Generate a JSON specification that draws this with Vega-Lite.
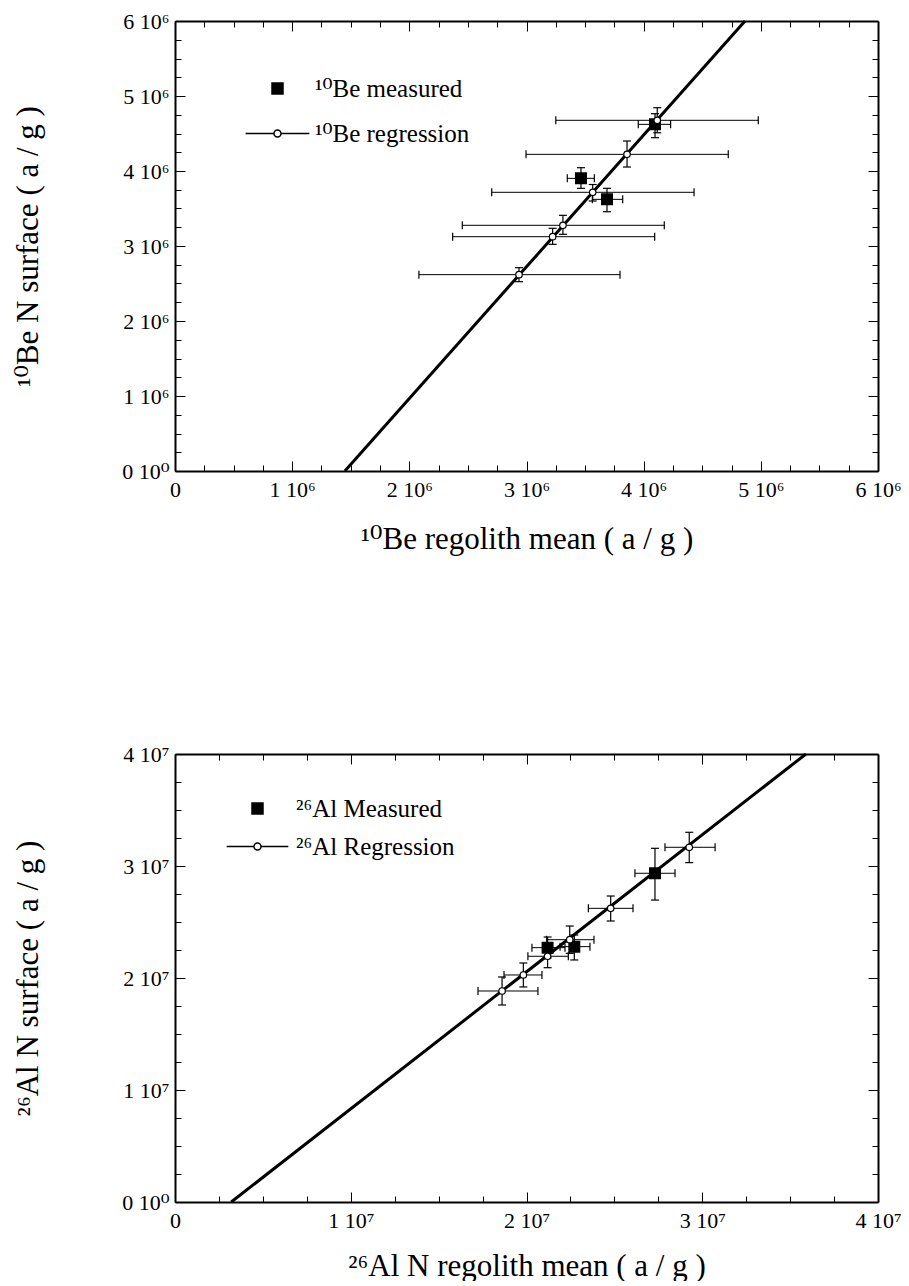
{
  "$schema": "https://vega.github.io/schema/vega-lite/v6.json",
  "padding": {"left": 12, "top": 10, "right": 0, "bottom": 0},
  "background": "white",
  "config": {"font": "'Liberation Serif', 'DejaVu Serif', serif", "view": {"stroke": null},
    "axis": {"labelFont": "'Liberation Serif', 'DejaVu Serif', serif", "titleFont": "'Liberation Serif', 'DejaVu Serif', serif"},
    "legend": {"labelFont": "'Liberation Serif', 'DejaVu Serif', serif"}},
  "spacing": 189,
  "datasets": {
    "be": [
      {"type": "reg", "series": "¹⁰Be regression", "x": 2936000, "y": 2618000, "xlo": 2082000, "xhi": 3798000, "ylo": 2524000, "yhi": 2711000},
      {"type": "reg", "series": "¹⁰Be regression", "x": 3223000, "y": 3124000, "xlo": 2370000, "xhi": 4094000, "ylo": 3022000, "yhi": 3236000},
      {"type": "reg", "series": "¹⁰Be regression", "x": 3311000, "y": 3276000, "xlo": 2452000, "xhi": 4176000, "ylo": 3156000, "yhi": 3409000},
      {"type": "reg", "series": "¹⁰Be regression", "x": 3565000, "y": 3716000, "xlo": 2703000, "xhi": 4430000, "ylo": 3600000, "yhi": 3820000},
      {"type": "reg", "series": "¹⁰Be regression", "x": 3858000, "y": 4222000, "xlo": 2996000, "xhi": 4722000, "ylo": 4053000, "yhi": 4400000},
      {"type": "reg", "series": "¹⁰Be regression", "x": 4116000, "y": 4676000, "xlo": 3250000, "xhi": 4978000, "ylo": 4510000, "yhi": 4844000},
      {"type": "meas", "series": "¹⁰Be measured", "x": 3465000, "y": 3902000, "xlo": 3348000, "xhi": 3579000, "ylo": 3769000, "yhi": 4044000},
      {"type": "meas", "series": "¹⁰Be measured", "x": 3687000, "y": 3622000, "xlo": 3562000, "xhi": 3821000, "ylo": 3457000, "yhi": 3769000},
      {"type": "meas", "series": "¹⁰Be measured", "x": 4097000, "y": 4622000, "xlo": 3954000, "xhi": 4230000, "ylo": 4444000, "yhi": 4764000}
    ],
    "beline": [{"x": 1450000, "y": 0}, {"x": 4865000, "y": 6000000}],
    "al": [
      {"type": "reg", "series": "²⁶Al Regression", "x": 18610000, "y": 18840000, "xlo": 17240000, "xhi": 20650000, "ylo": 17590000, "yhi": 20090000},
      {"type": "reg", "series": "²⁶Al Regression", "x": 19820000, "y": 20270000, "xlo": 18720000, "xhi": 20880000, "ylo": 19200000, "yhi": 21340000},
      {"type": "reg", "series": "²⁶Al Regression", "x": 21200000, "y": 21940000, "xlo": 20080000, "xhi": 22380000, "ylo": 20920000, "yhi": 22950000},
      {"type": "reg", "series": "²⁶Al Regression", "x": 22460000, "y": 23420000, "xlo": 21150000, "xhi": 23840000, "ylo": 22200000, "yhi": 24640000},
      {"type": "reg", "series": "²⁶Al Regression", "x": 24790000, "y": 26220000, "xlo": 23520000, "xhi": 26060000, "ylo": 25090000, "yhi": 27320000},
      {"type": "reg", "series": "²⁶Al Regression", "x": 29260000, "y": 31670000, "xlo": 27880000, "xhi": 30730000, "ylo": 30300000, "yhi": 33010000},
      {"type": "meas", "series": "²⁶Al Measured", "x": 21200000, "y": 22710000, "xlo": 20310000, "xhi": 22190000, "ylo": 21790000, "yhi": 23660000},
      {"type": "meas", "series": "²⁶Al Measured", "x": 22720000, "y": 22800000, "xlo": 21910000, "xhi": 23610000, "ylo": 21610000, "yhi": 23840000},
      {"type": "meas", "series": "²⁶Al Measured", "x": 27310000, "y": 29350000, "xlo": 26170000, "xhi": 28450000, "ylo": 26960000, "yhi": 31580000}
    ],
    "alline": [{"x": 3200000, "y": 0}, {"x": 35900000, "y": 40000000}]
  },
  "resolve": {
    "scale": {"x": "independent", "y": "independent", "shape": "independent", "fill": "independent", "stroke": "independent"},
    "legend": {"shape": "independent", "fill": "independent", "stroke": "independent"}
  },
  "vconcat": [
    {
      "width": 703,
      "height": 450,
      "resolve": {"axis": {"x": "independent", "y": "independent"}},
      "layer": [
        {
          "data": {"name": "be"},
          "mark": {"type": "rule", "color": "black", "strokeWidth": 1},
          "encoding": {
            "x": {"field": "xlo", "type": "quantitative", "scale": {"domain": [0, 6000000], "nice": false}, "axis": null},
            "x2": {"field": "xhi"},
            "y": {"field": "y", "type": "quantitative", "scale": {"domain": [0, 6000000], "nice": false}, "axis": null}
          }
        },
        {
          "data": {"name": "be"},
          "mark": {"type": "tick", "orient": "vertical", "size": 8, "thickness": 1.2, "color": "black", "opacity": 1},
          "encoding": {
            "x": {"field": "xlo", "type": "quantitative", "scale": {"domain": [0, 6000000], "nice": false}, "axis": null},
            "y": {"field": "y", "type": "quantitative", "scale": {"domain": [0, 6000000], "nice": false}, "axis": null}
          }
        },
        {
          "data": {"name": "be"},
          "mark": {"type": "tick", "orient": "vertical", "size": 8, "thickness": 1.2, "color": "black", "opacity": 1},
          "encoding": {
            "x": {"field": "xhi", "type": "quantitative", "scale": {"domain": [0, 6000000], "nice": false}, "axis": null},
            "y": {"field": "y", "type": "quantitative", "scale": {"domain": [0, 6000000], "nice": false}, "axis": null}
          }
        },
        {
          "data": {"name": "be"},
          "mark": {"type": "rule", "color": "black", "strokeWidth": 1.2},
          "encoding": {
            "x": {"field": "x", "type": "quantitative", "scale": {"domain": [0, 6000000], "nice": false}, "axis": null},
            "y": {"field": "ylo", "type": "quantitative", "scale": {"domain": [0, 6000000], "nice": false}, "axis": null},
            "y2": {"field": "yhi"}
          }
        },
        {
          "data": {"name": "be"},
          "mark": {"type": "tick", "orient": "horizontal", "size": 8, "thickness": 1.2, "color": "black", "opacity": 1},
          "encoding": {
            "x": {"field": "x", "type": "quantitative", "scale": {"domain": [0, 6000000], "nice": false}, "axis": null},
            "y": {"field": "ylo", "type": "quantitative", "scale": {"domain": [0, 6000000], "nice": false}, "axis": null}
          }
        },
        {
          "data": {"name": "be"},
          "mark": {"type": "tick", "orient": "horizontal", "size": 8, "thickness": 1.2, "color": "black", "opacity": 1},
          "encoding": {
            "x": {"field": "x", "type": "quantitative", "scale": {"domain": [0, 6000000], "nice": false}, "axis": null},
            "y": {"field": "yhi", "type": "quantitative", "scale": {"domain": [0, 6000000], "nice": false}, "axis": null}
          }
        },
        {
          "data": {"name": "beline"},
          "mark": {"type": "line", "color": "black", "strokeWidth": 3},
          "encoding": {
            "x": {"field": "x", "type": "quantitative", "scale": {"domain": [0, 6000000], "nice": false},
              "axis": {"orient": "bottom", "values": [0, 250000, 500000, 750000, 1000000, 1250000, 1500000, 1750000, 2000000, 2250000, 2500000, 2750000, 3000000, 3250000, 3500000, 3750000, 4000000, 4250000, 4500000, 4750000, 5000000, 5250000, 5500000, 5750000, 6000000],
                "labelExpr": "datum.value % 1000000 === 0 ? (datum.value === 0 ? '0' : (datum.value / 1000000) + ' 10⁶') : ''",
                "tickSize": {"condition": {"test": "datum.value % 1000000 === 0", "value": -10}, "value": -6},
                "tickColor": "black", "tickWidth": 1, "domainColor": "black", "domainWidth": 2, "grid": false,
                "labelFontSize": 22, "labelColor": "black", "labelPadding": 18,
                "labelFlush": false, "labelOverlap": false, "labelBound": false,
                "title": "¹⁰Be regolith mean ( a / g )", "titleFontSize": 31, "titleFontWeight": "normal", "titleColor": "black", "titlePadding": 20}},
            "y": {"field": "y", "type": "quantitative", "scale": {"domain": [0, 6000000], "nice": false},
              "axis": {"orient": "left", "values": [0, 250000, 500000, 750000, 1000000, 1250000, 1500000, 1750000, 2000000, 2250000, 2500000, 2750000, 3000000, 3250000, 3500000, 3750000, 4000000, 4250000, 4500000, 4750000, 5000000, 5250000, 5500000, 5750000, 6000000],
                "labelExpr": "datum.value % 1000000 === 0 ? (datum.value === 0 ? '0 10⁰' : (datum.value / 1000000) + ' 10⁶') : ''",
                "tickSize": {"condition": {"test": "datum.value % 1000000 === 0", "value": -10}, "value": -6},
                "tickColor": "black", "tickWidth": 1, "domainColor": "black", "domainWidth": 2, "grid": false,
                "labelFontSize": 22, "labelColor": "black", "labelPadding": 16,
                "labelFlush": false, "labelOverlap": false, "labelBound": false,
                "title": "¹⁰Be N surface ( a / g )", "titleFontSize": 31, "titleFontWeight": "normal", "titleColor": "black", "titlePadding": 77}}
          }
        },
        {
          "data": {"name": "be"},
          "transform": [{"filter": "datum.type === 'meas'"}],
          "mark": {"type": "point", "filled": true, "strokeWidth": 1.5, "size": 110, "opacity": 1},
          "encoding": {
            "x": {"field": "x", "type": "quantitative", "scale": {"domain": [0, 6000000], "nice": false},
              "axis": {"orient": "top", "values": [0, 250000, 500000, 750000, 1000000, 1250000, 1500000, 1750000, 2000000, 2250000, 2500000, 2750000, 3000000, 3250000, 3500000, 3750000, 4000000, 4250000, 4500000, 4750000, 5000000, 5250000, 5500000, 5750000, 6000000],
                "labels": false, "title": null,
                "tickSize": {"condition": {"test": "datum.value % 1000000 === 0", "value": -10}, "value": -6},
                "tickColor": "black", "tickWidth": 1, "domainColor": "black", "domainWidth": 2, "grid": false}},
            "y": {"field": "y", "type": "quantitative", "scale": {"domain": [0, 6000000], "nice": false},
              "axis": {"orient": "right", "values": [0, 250000, 500000, 750000, 1000000, 1250000, 1500000, 1750000, 2000000, 2250000, 2500000, 2750000, 3000000, 3250000, 3500000, 3750000, 4000000, 4250000, 4500000, 4750000, 5000000, 5250000, 5500000, 5750000, 6000000],
                "labels": false, "title": null,
                "tickSize": {"condition": {"test": "datum.value % 1000000 === 0", "value": -10}, "value": -6},
                "tickColor": "black", "tickWidth": 1, "domainColor": "black", "domainWidth": 2, "grid": false}},
            "shape": {"field": "series", "type": "nominal",
              "scale": {"domain": ["¹⁰Be measured", "¹⁰Be regression"], "range": ["square", "M-5.8,0L-0.64,0M0.64,0L5.8,0M0.64,0A0.64,0.64,0,1,1,-0.64,0A0.64,0.64,0,1,1,0.64,0Z"]},
              "legend": {"title": null, "orient": "none", "legendX": 90, "legendY": 55, "symbolSize": 121, "symbolStrokeWidth": 1.5, "symbolOpacity": 1, "labelFontSize": 25, "labelColor": "black", "labelOffset": 25, "rowPadding": 19, "labelLimit": 0}},
            "fill": {"field": "series", "type": "nominal",
              "scale": {"domain": ["¹⁰Be measured", "¹⁰Be regression"], "range": ["black", "white"]},
              "legend": {"title": null, "orient": "none", "legendX": 90, "legendY": 55, "symbolSize": 121, "symbolStrokeWidth": 1.5, "symbolOpacity": 1, "labelFontSize": 25, "labelColor": "black", "labelOffset": 25, "rowPadding": 19, "labelLimit": 0}},
            "stroke": {"field": "series", "type": "nominal",
              "scale": {"domain": ["¹⁰Be measured", "¹⁰Be regression"], "range": ["black", "black"]},
              "legend": {"title": null, "orient": "none", "legendX": 90, "legendY": 55, "symbolSize": 121, "symbolStrokeWidth": 1.5, "symbolOpacity": 1, "labelFontSize": 25, "labelColor": "black", "labelOffset": 25, "rowPadding": 19, "labelLimit": 0}}
          }
        },
        {
          "data": {"name": "be"},
          "transform": [{"filter": "datum.type === 'reg'"}],
          "mark": {"type": "point", "shape": "circle", "filled": true, "fill": "white", "stroke": "black", "strokeWidth": 1.2, "size": 42, "opacity": 1},
          "encoding": {
            "x": {"field": "x", "type": "quantitative", "scale": {"domain": [0, 6000000], "nice": false}, "axis": null},
            "y": {"field": "y", "type": "quantitative", "scale": {"domain": [0, 6000000], "nice": false}, "axis": null}
          }
        }
      ]
    },
    {
      "width": 703,
      "height": 448,
      "resolve": {"axis": {"x": "independent", "y": "independent"}},
      "layer": [
        {
          "data": {"name": "al"},
          "mark": {"type": "rule", "color": "black", "strokeWidth": 1},
          "encoding": {
            "x": {"field": "xlo", "type": "quantitative", "scale": {"domain": [0, 40000000], "nice": false}, "axis": null},
            "x2": {"field": "xhi"},
            "y": {"field": "y", "type": "quantitative", "scale": {"domain": [0, 40000000], "nice": false}, "axis": null}
          }
        },
        {
          "data": {"name": "al"},
          "mark": {"type": "tick", "orient": "vertical", "size": 8, "thickness": 1.2, "color": "black", "opacity": 1},
          "encoding": {
            "x": {"field": "xlo", "type": "quantitative", "scale": {"domain": [0, 40000000], "nice": false}, "axis": null},
            "y": {"field": "y", "type": "quantitative", "scale": {"domain": [0, 40000000], "nice": false}, "axis": null}
          }
        },
        {
          "data": {"name": "al"},
          "mark": {"type": "tick", "orient": "vertical", "size": 8, "thickness": 1.2, "color": "black", "opacity": 1},
          "encoding": {
            "x": {"field": "xhi", "type": "quantitative", "scale": {"domain": [0, 40000000], "nice": false}, "axis": null},
            "y": {"field": "y", "type": "quantitative", "scale": {"domain": [0, 40000000], "nice": false}, "axis": null}
          }
        },
        {
          "data": {"name": "al"},
          "mark": {"type": "rule", "color": "black", "strokeWidth": 1.2},
          "encoding": {
            "x": {"field": "x", "type": "quantitative", "scale": {"domain": [0, 40000000], "nice": false}, "axis": null},
            "y": {"field": "ylo", "type": "quantitative", "scale": {"domain": [0, 40000000], "nice": false}, "axis": null},
            "y2": {"field": "yhi"}
          }
        },
        {
          "data": {"name": "al"},
          "mark": {"type": "tick", "orient": "horizontal", "size": 8, "thickness": 1.2, "color": "black", "opacity": 1},
          "encoding": {
            "x": {"field": "x", "type": "quantitative", "scale": {"domain": [0, 40000000], "nice": false}, "axis": null},
            "y": {"field": "ylo", "type": "quantitative", "scale": {"domain": [0, 40000000], "nice": false}, "axis": null}
          }
        },
        {
          "data": {"name": "al"},
          "mark": {"type": "tick", "orient": "horizontal", "size": 8, "thickness": 1.2, "color": "black", "opacity": 1},
          "encoding": {
            "x": {"field": "x", "type": "quantitative", "scale": {"domain": [0, 40000000], "nice": false}, "axis": null},
            "y": {"field": "yhi", "type": "quantitative", "scale": {"domain": [0, 40000000], "nice": false}, "axis": null}
          }
        },
        {
          "data": {"name": "alline"},
          "mark": {"type": "line", "color": "black", "strokeWidth": 3},
          "encoding": {
            "x": {"field": "x", "type": "quantitative", "scale": {"domain": [0, 40000000], "nice": false},
              "axis": {"orient": "bottom", "values": [0, 2500000, 5000000, 7500000, 10000000, 12500000, 15000000, 17500000, 20000000, 22500000, 25000000, 27500000, 30000000, 32500000, 35000000, 37500000, 40000000],
                "labelExpr": "datum.value % 10000000 === 0 ? (datum.value === 0 ? '0' : (datum.value / 10000000) + ' 10⁷') : ''",
                "tickSize": {"condition": {"test": "datum.value % 10000000 === 0", "value": -10}, "value": -6},
                "tickColor": "black", "tickWidth": 1, "domainColor": "black", "domainWidth": 2, "grid": false,
                "labelFontSize": 22, "labelColor": "black", "labelPadding": 18,
                "labelFlush": false, "labelOverlap": false, "labelBound": false,
                "title": "²⁶Al N regolith mean ( a / g )", "titleFontSize": 31, "titleFontWeight": "normal", "titleColor": "black", "titlePadding": 16}},
            "y": {"field": "y", "type": "quantitative", "scale": {"domain": [0, 40000000], "nice": false},
              "axis": {"orient": "left", "values": [0, 2500000, 5000000, 7500000, 10000000, 12500000, 15000000, 17500000, 20000000, 22500000, 25000000, 27500000, 30000000, 32500000, 35000000, 37500000, 40000000],
                "labelExpr": "datum.value % 10000000 === 0 ? (datum.value === 0 ? '0 10⁰' : (datum.value / 10000000) + ' 10⁷') : ''",
                "tickSize": {"condition": {"test": "datum.value % 10000000 === 0", "value": -10}, "value": -6},
                "tickColor": "black", "tickWidth": 1, "domainColor": "black", "domainWidth": 2, "grid": false,
                "labelFontSize": 22, "labelColor": "black", "labelPadding": 16,
                "labelFlush": false, "labelOverlap": false, "labelBound": false,
                "title": "²⁶Al N surface ( a / g )", "titleFontSize": 31, "titleFontWeight": "normal", "titleColor": "black", "titlePadding": 77}}
          }
        },
        {
          "data": {"name": "al"},
          "transform": [{"filter": "datum.type === 'meas'"}],
          "mark": {"type": "point", "filled": true, "strokeWidth": 1.5, "size": 110, "opacity": 1},
          "encoding": {
            "x": {"field": "x", "type": "quantitative", "scale": {"domain": [0, 40000000], "nice": false},
              "axis": {"orient": "top", "values": [0, 2500000, 5000000, 7500000, 10000000, 12500000, 15000000, 17500000, 20000000, 22500000, 25000000, 27500000, 30000000, 32500000, 35000000, 37500000, 40000000],
                "labels": false, "title": null,
                "tickSize": {"condition": {"test": "datum.value % 10000000 === 0", "value": -10}, "value": -6},
                "tickColor": "black", "tickWidth": 1, "domainColor": "black", "domainWidth": 2, "grid": false}},
            "y": {"field": "y", "type": "quantitative", "scale": {"domain": [0, 40000000], "nice": false},
              "axis": {"orient": "right", "values": [0, 2500000, 5000000, 7500000, 10000000, 12500000, 15000000, 17500000, 20000000, 22500000, 25000000, 27500000, 30000000, 32500000, 35000000, 37500000, 40000000],
                "labels": false, "title": null,
                "tickSize": {"condition": {"test": "datum.value % 10000000 === 0", "value": -10}, "value": -6},
                "tickColor": "black", "tickWidth": 1, "domainColor": "black", "domainWidth": 2, "grid": false}},
            "shape": {"field": "series", "type": "nominal",
              "scale": {"domain": ["²⁶Al Measured", "²⁶Al Regression"], "range": ["square", "M-5.6,0L-0.64,0M0.64,0L5.6,0M0.64,0A0.64,0.64,0,1,1,-0.64,0A0.64,0.64,0,1,1,0.64,0Z"]},
              "legend": {"title": null, "orient": "none", "legendX": 70, "legendY": 42, "symbolSize": 121, "symbolStrokeWidth": 1.5, "symbolOpacity": 1, "labelFontSize": 25, "labelColor": "black", "labelOffset": 26, "rowPadding": 12, "labelLimit": 0}},
            "fill": {"field": "series", "type": "nominal",
              "scale": {"domain": ["²⁶Al Measured", "²⁶Al Regression"], "range": ["black", "white"]},
              "legend": {"title": null, "orient": "none", "legendX": 70, "legendY": 42, "symbolSize": 121, "symbolStrokeWidth": 1.5, "symbolOpacity": 1, "labelFontSize": 25, "labelColor": "black", "labelOffset": 26, "rowPadding": 12, "labelLimit": 0}},
            "stroke": {"field": "series", "type": "nominal",
              "scale": {"domain": ["²⁶Al Measured", "²⁶Al Regression"], "range": ["black", "black"]},
              "legend": {"title": null, "orient": "none", "legendX": 70, "legendY": 42, "symbolSize": 121, "symbolStrokeWidth": 1.5, "symbolOpacity": 1, "labelFontSize": 25, "labelColor": "black", "labelOffset": 26, "rowPadding": 12, "labelLimit": 0}}
          }
        },
        {
          "data": {"name": "al"},
          "transform": [{"filter": "datum.type === 'reg'"}],
          "mark": {"type": "point", "shape": "circle", "filled": true, "fill": "white", "stroke": "black", "strokeWidth": 1.2, "size": 42, "opacity": 1},
          "encoding": {
            "x": {"field": "x", "type": "quantitative", "scale": {"domain": [0, 40000000], "nice": false}, "axis": null},
            "y": {"field": "y", "type": "quantitative", "scale": {"domain": [0, 40000000], "nice": false}, "axis": null}
          }
        }
      ]
    }
  ]
}
